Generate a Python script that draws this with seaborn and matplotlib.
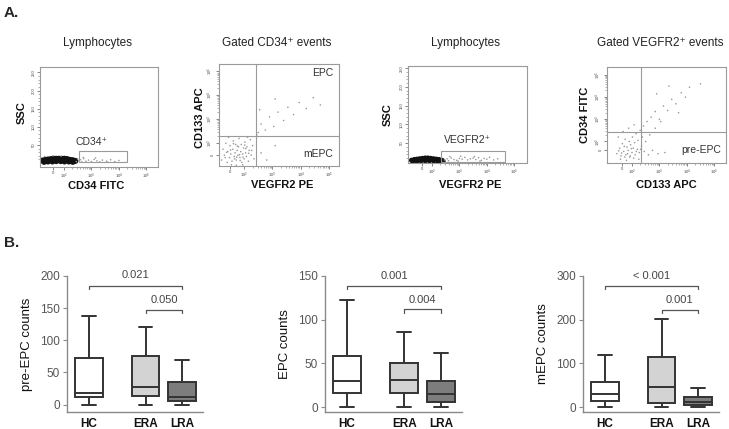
import numpy as np
import pandas as pd
import matplotlib
matplotlib.use('Agg')
import matplotlib.pyplot as plt
from matplotlib.patches import Rectangle
from matplotlib.ticker import FixedLocator
import seaborn as sns

# ---- panel B data: five-number summaries (min, q1, median, q3, max)
GROUPS = ['HC', 'ERA', 'LRA']
GROUP_POS = [0.0, 1.55, 2.55]
GROUP_COLORS = ['#ffffff', '#d3d3d3', '#7d7d7d']

PRE_EPC_HC = [0, 11, 18, 73, 138]
PRE_EPC_ERA = [0, 14, 28, 76, 121]
PRE_EPC_LRA = [0, 6, 12, 35, 70]

EPC_HC = [0, 16, 30, 58, 122]
EPC_ERA = [0, 16, 31, 50, 86]
EPC_LRA = [0, 6, 15, 30, 62]

MEPC_HC = [0, 15, 30, 57, 120]
MEPC_ERA = [0, 10, 47, 114, 201]
MEPC_LRA = [0, 5, 11, 23, 45]

PRE_EPC_P = ['0.021', '0.050']
EPC_P = ['0.001', '0.004']
MEPC_P = ['< 0.001', '0.001']

# ---- panel A data: events (x, y) in decade units / SSC (x1000)
P1_BLOB_X = [1.22, 1.32, 1.42, 1.52, 1.62, 1.72, 1.82, 1.92, 2.02, 2.12, 2.22, 2.32, 2.42,
             1.28, 1.42, 1.58, 1.72, 1.88, 2.02, 2.18, 2.32,
             1.27, 1.37, 1.47, 1.57, 1.67, 1.77, 1.87, 1.97, 2.07, 2.17, 2.27, 2.37]
P1_BLOB_Y = [7, 9, 10, 11, 12, 12, 12, 12, 12, 11, 9, 8, 6,
             3, 4, 4, 5, 5, 4, 4, 3,
             5, 7, 8, 8, 9, 9, 9, 9, 8, 8, 6, 5]
P1_DOT_X = [2.55, 2.6, 2.65, 2.72, 2.8, 2.9, 3.0, 3.1, 3.2, 3.3, 3.4, 3.55, 3.7, 3.85, 4.0,
            2.7, 3.15, 2.5, 2.45, 3.6, 1.3, 1.6, 1.9]
P1_DOT_Y = [6, 9, 3, 12, 5, 8, 4, 10, 6, 3, 8, 5, 9, 4, 7, 15, 14, 11, 4, 2, 18, 20, 19]

P2_DOT_X = [1.20, 1.25, 1.30, 1.35, 1.40, 1.42, 1.48, 1.50, 1.53, 1.57, 1.60, 1.62, 1.65, 1.68,
            1.70, 1.72, 1.75, 1.78, 1.80, 1.82, 1.85, 1.88, 1.90, 1.92, 1.95, 1.98, 2.00, 2.03,
            2.05, 2.08, 2.10, 2.15, 2.18, 2.22, 2.25, 2.30, 2.35, 1.55, 1.72, 1.95, 1.45, 2.12,
            1.38, 1.52, 1.66, 1.76, 1.84, 1.96, 2.06, 2.16, 1.62, 1.86, 2.02, 1.74, 1.33, 2.27,
            2.50, 2.60, 2.75, 2.90, 3.05, 3.20, 3.40, 3.55, 3.75, 3.95, 4.20, 4.45, 4.70, 2.55,
            3.10, 2.45, 2.60, 3.10, 2.80]
P2_DOT_Y = [1.30, 1.75, 1.50, 2.00, 1.20, 1.65, 1.40, 1.90, 1.55, 1.25, 1.75, 2.10, 1.45, 1.60,
            1.95, 1.30, 1.70, 1.50, 1.85, 2.20, 1.40, 1.65, 1.95, 1.20, 1.55, 1.80, 1.35, 2.05,
            1.60, 1.45, 1.85, 1.25, 1.70, 2.15, 1.50, 1.90, 1.35, 1.10, 1.08, 1.10, 2.25, 2.25,
            1.62, 1.72, 1.35, 1.88, 1.52, 1.42, 1.78, 1.58, 1.98, 1.28, 1.92, 1.42, 1.40, 1.70,
            2.45, 2.80, 2.55, 3.10, 2.70, 3.30, 2.95, 3.50, 3.20, 3.70, 3.45, 3.90, 3.60, 3.40,
            3.85, 2.35, 1.60, 1.90, 1.30]

P3_BLOB_X = [1.25, 1.35, 1.45, 1.55, 1.65, 1.75, 1.85, 1.95, 2.05, 2.15, 2.25, 2.35,
             1.30, 1.45, 1.60, 1.75, 1.90, 2.05, 2.20, 2.40,
             1.40, 1.50, 1.60, 1.70, 1.80, 1.90, 2.00, 2.10, 2.20, 2.30]
P3_BLOB_Y = [4, 6, 7, 8, 9, 10, 10, 9, 8, 7, 6, 4,
             2, 2, 3, 3, 3, 3, 2, 2,
             5, 5, 6, 6, 7, 7, 6, 5, 4, 3]
P3_DOT_X = [2.45, 2.55, 2.6, 2.7, 2.8, 2.9, 3.0, 3.1, 3.2, 3.3, 3.4, 3.5, 3.6, 3.7, 3.8, 3.9,
            4.0, 4.1, 4.25, 4.4, 2.65, 3.05, 3.55, 2.95, 3.75]
P3_DOT_Y = [5, 8, 3, 10, 6, 4, 9, 7, 12, 5, 8, 10, 6, 11, 4, 9, 7, 12, 5, 8, 14, 15, 14, 2, 2]

P4_DOT_X = [1.45, 1.55, 1.60, 1.65, 1.70, 1.75, 1.78, 1.82, 1.86, 1.90, 1.92, 1.95, 2.00, 2.02,
            2.05, 2.10, 2.12, 2.15, 2.20, 2.22, 2.27, 2.30, 2.35, 2.38, 2.42, 2.45, 2.50, 2.55,
            2.60, 2.65, 2.75, 2.85, 2.95, 3.05, 3.20, 1.50, 1.68, 1.88, 2.08, 1.58, 1.80, 2.25,
            1.52, 1.62, 1.72, 1.84, 1.98, 2.16, 1.74, 1.94, 2.06, 2.32,
            2.70, 2.85, 3.00, 3.15, 3.30, 3.45, 3.60, 3.80, 3.95, 4.10, 2.90, 3.35, 4.50, 3.70]
P4_DOT_Y = [1.45, 1.70, 1.35, 1.90, 1.55, 2.10, 1.40, 1.75, 1.60, 2.00, 1.30, 1.85, 1.50, 2.20,
            1.70, 1.95, 1.40, 2.35, 1.65, 2.05, 1.50, 2.50, 1.80, 2.20, 2.70, 1.55, 2.00, 2.90,
            1.40, 2.30, 1.60, 2.60, 1.45, 2.90, 1.50, 2.20, 2.45, 2.60, 2.75, 1.20, 1.15, 1.20,
            1.58, 1.48, 1.78, 1.45, 1.68, 1.55, 1.30, 1.35, 1.25, 1.65,
            3.10, 3.35, 3.00, 3.60, 3.40, 3.90, 3.70, 4.20, 4.00, 4.45, 4.15, 4.50, 4.60, 3.30]

BOX_EDGE = '#333333'
SPINE = '#8a8a8a'
FLOW_LINE = '#9a9a9a'

sns.set_theme(style='white')
plt.rcParams['font.family'] = ['Liberation Sans', 'DejaVu Sans']
plt.rcParams['mathtext.fontset'] = 'custom'
plt.rcParams['mathtext.rm'] = 'Liberation Sans'

W, H = 729, 429
fig = plt.figure(figsize=(W / 100, H / 100), dpi=100)
fig.patch.set_facecolor('white')


def px_rect(x0, y0, x1, y1):
    return [x0 / W, 1 - y1 / H, (x1 - x0) / W, (y1 - y0) / H]


def ftext(x, y, s, **kw):
    fig.text(x / W, 1 - y / H, s, **kw)


def log_ticks(zero):
    pos = [zero, 2, 3, 4, 5]
    labels = ['0', r'$10^2$', r'$10^3$', r'$10^4$', r'$10^5$']
    minor = [d + np.log10(k) for d in (2, 3, 4) for k in range(2, 10)]
    return pos, labels, minor


def style_flow(ax, xlim, ylim, xzero, yzero=None):
    ax.set_xlim(*xlim)
    ax.set_ylim(*ylim)
    for sp in ax.spines.values():
        sp.set_color(FLOW_LINE)
        sp.set_linewidth(0.8)
    pos, labels, minor = log_ticks(xzero)
    ax.set_xticks(pos)
    ax.set_xticklabels(labels)
    ax.xaxis.set_minor_locator(FixedLocator(minor))
    if yzero is None:
        ax.set_yticks([50, 100, 150, 200, 250])
        ax.set_yticklabels(['50', '100', '150', '200', '250'], rotation=90, va='center')
        ax.yaxis.set_minor_locator(FixedLocator(list(range(10, 260, 10))))
    else:
        pos, labels, minor = log_ticks(yzero)
        ax.set_yticks(pos)
        ax.set_yticklabels(labels, rotation=90, va='center')
        ax.yaxis.set_minor_locator(FixedLocator(minor))
    ax.tick_params(which='major', length=2, width=0.5, color='#555555', labelsize=3,
                   labelcolor='#444444', pad=1.2, bottom=True, left=True)
    ax.tick_params(which='minor', length=1.2, width=0.4, color='#777777', bottom=True, left=True)
    ax.set_xlabel('')
    ax.set_ylabel('')


def dots(ax, x, y, s=1.3, color='#999999'):
    sns.scatterplot(x=x, y=y, ax=ax, s=s, color=color, linewidth=0, edgecolor='none',
                    legend=False)


def blob(ax, x, y, s):
    sns.scatterplot(x=x, y=y, ax=ax, s=s, color='#111111', linewidth=0, edgecolor='none',
                    legend=False)


# ---------------- panel A ----------------
ax1 = fig.add_axes(px_rect(40, 67, 158, 167))
blob(ax1, P1_BLOB_X, P1_BLOB_Y, 18)
dots(ax1, P1_DOT_X, P1_DOT_Y)
style_flow(ax1, (1.13, 5.42), (-11, 265), 1.59)
ax1.add_patch(Rectangle((2.56, 1.5), 4.28 - 2.56, 32, fill=False, ec=FLOW_LINE, lw=0.8))
ax1.text(3.0, 58, 'CD34\u207a', fontsize=7.5, color='#333333', ha='center', va='center')

ax2 = fig.add_axes(px_rect(219, 64, 339, 166))
dots(ax2, P2_DOT_X, P2_DOT_Y)
style_flow(ax2, (1.11, 5.36), (1.05, 5.31), 1.49, 1.51)
ax2.axvline(2.41, color=FLOW_LINE, lw=0.8)
ax2.axhline(2.31, color=FLOW_LINE, lw=0.8)
ax2.text(5.15, 4.93, 'EPC', fontsize=7.5, color='#333333', ha='right', va='center')
ax2.text(5.15, 1.55, 'mEPC', fontsize=7.5, color='#333333', ha='right', va='center')

ax3 = fig.add_axes(px_rect(408, 66, 527, 163))
blob(ax3, P3_BLOB_X, P3_BLOB_Y, 14)
dots(ax3, P3_DOT_X, P3_DOT_Y)
style_flow(ax3, (1.12, 5.47), (-3.2, 256), 1.64)
ax3.add_patch(Rectangle((2.34, 0.5), 4.68 - 2.34, 27.5, fill=False, ec=FLOW_LINE, lw=0.8))
ax3.text(3.3, 58, 'VEGFR2\u207a', fontsize=7.5, color='#333333', ha='center', va='center')

ax4 = fig.add_axes(px_rect(607, 67, 726, 163))
dots(ax4, P4_DOT_X, P4_DOT_Y)
style_flow(ax4, (1.09, 5.43), (1.03, 5.36), 1.64, 1.63)
ax4.axvline(2.34, color=FLOW_LINE, lw=0.8)
ax4.axhline(2.45, color=FLOW_LINE, lw=0.8)
ax4.text(5.25, 1.63, 'pre-EPC', fontsize=7.5, color='#333333', ha='right', va='center')

title_kw = dict(fontsize=8.5, color='#222222', ha='center', va='center')
ftext(98, 43, 'Lymphocytes', **title_kw)
ftext(277, 43, 'Gated CD34\u207a events', **title_kw)
ftext(465, 43, 'Lymphocytes', **title_kw)
ftext(660, 43, 'Gated VEGFR2\u207a events', **title_kw)

lab_kw = dict(fontsize=8, fontweight='bold', color='#111111', ha='center', va='center')
ftext(96, 186, 'CD34 FITC', **lab_kw)
ftext(282, 185, 'VEGFR2 PE', **lab_kw)
ftext(470, 185, 'VEGFR2 PE', **lab_kw)
ftext(666, 185, 'CD133 APC', **lab_kw)
ftext(22, 113, 'SSC', rotation=90, **lab_kw)
ftext(200, 118, 'CD133 APC', rotation=90, **lab_kw)
ftext(388, 115, 'SSC', rotation=90, **lab_kw)
ftext(585, 115, 'CD34 FITC', rotation=90, **lab_kw)

ftext(4, 13, 'A.', fontsize=11, fontweight='bold', ha='left', va='center')
ftext(4, 243, 'B.', fontsize=11, fontweight='bold', ha='left', va='center')


# ---------------- panel B ----------------
def box_panel(rect, values, ylim, yticks, ylabel, pvals, bracket_y, text_y, drop):
    ax = fig.add_axes(rect)
    rows = []
    for grp, pos, vals in zip(GROUPS, GROUP_POS, values):
        for v in vals:
            rows.append({'pos': pos, 'count': v, 'group': grp})
    df = pd.DataFrame(rows)
    sns.boxplot(data=df, x='pos', y='count', hue='group', hue_order=GROUPS,
                palette=dict(zip(GROUPS, GROUP_COLORS)), native_scale=True, dodge=False,
                whis=(0, 100), width=0.75, linecolor=BOX_EDGE, linewidth=1.4,
                showfliers=False, legend=False, ax=ax)
    ax.set_xlim(-0.6, 3.12)
    ax.set_ylim(*ylim)
    ax.set_yticks(yticks)
    ax.set_xticks(GROUP_POS)
    ax.set_xticklabels(GROUPS, fontsize=8.5, fontweight='bold', color='#111111')
    ax.tick_params(axis='x', length=0, pad=4)
    ax.tick_params(axis='y', length=3, width=0.8, color=SPINE, labelsize=8.5,
                   labelcolor='#555555', pad=2, left=True)
    ax.set_xlabel('')
    ax.set_ylabel(ylabel, fontsize=9.5, color='#111111', labelpad=5)
    sns.despine(ax=ax)
    for side in ('left', 'bottom'):
        ax.spines[side].set_color(SPINE)
        ax.spines[side].set_linewidth(1.0)
    # significance brackets: HC-LRA and ERA-LRA
    pairs = [(0, 2), (1, 2)]
    for (i, j), by, ty, p in zip(pairs, bracket_y, text_y, pvals):
        x0, x1 = GROUP_POS[i], GROUP_POS[j]
        ax.plot([x0, x0, x1, x1], [by - drop, by, by, by - drop], color='#555555',
                lw=0.9, clip_on=False)
        ax.text((x0 + x1) / 2, ty, p, fontsize=8, color='#444444', ha='center',
                va='center', clip_on=False)
    return ax


box_panel(px_rect(67, 276, 203, 412), [PRE_EPC_HC, PRE_EPC_ERA, PRE_EPC_LRA],
          (-11.6, 200), [0, 50, 100, 150, 200], 'pre-EPC counts', PRE_EPC_P,
          [184, 147], [201, 162], 5)
box_panel(px_rect(325, 276, 462, 412), [EPC_HC, EPC_ERA, EPC_LRA],
          (-5.7, 150), [0, 50, 100, 150], 'EPC counts', EPC_P,
          [138.6, 112], [150, 122], 4)
box_panel(px_rect(583, 276, 719, 412), [MEPC_HC, MEPC_ERA, MEPC_LRA],
          (-11, 300), [0, 100, 200, 300], 'mEPC counts', MEPC_P,
          [277, 223], [300, 244], 7)

fig.savefig('out.png', dpi=100)
